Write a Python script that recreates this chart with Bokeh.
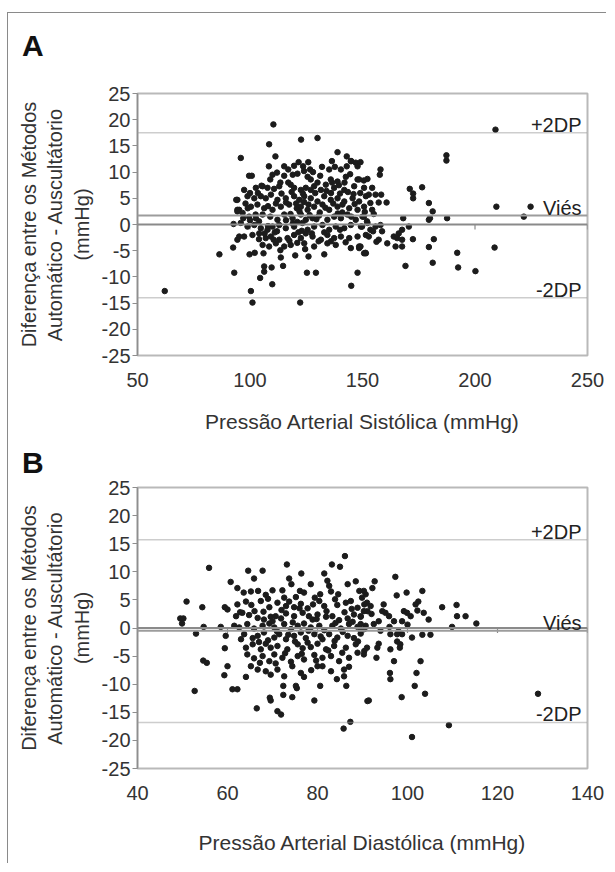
import math
from bokeh.plotting import figure
from bokeh.models import Span, Label, FixedTicker, Div
from bokeh.layouts import column
from bokeh.embed import file_html
from bokeh.resources import INLINE

FONT = "Liberation Sans"

# ---------------- Panel A: systolic ----------------
sys_x_ticks = [50, 100, 150, 200, 250]
y_ticks = [-25, -20, -15, -10, -5, 0, 5, 10, 15, 20, 25]
sys_bias, sys_upper, sys_lower = 1.7, 17.5, -14.0

sys_outer = [(62.1, -12.7), (86.4, -5.7), (93.0, -9.2), (92.5, -4.4), (92.7, 0.1), (95.9, 12.7),
             (93.9, 4.7), (94.4, 2.8), (95.2, -2.3), (94.4, -2.9), (100.4, -12.7), (101.1, -14.9),
             (99.8, -5.7), (102.1, -5.4), (104.5, -10.2), (106.3, -9.0), (106.3, -8.0), (106.0, -5.5),
             (109.9, -11.4), (109.6, -8.2), (108.5, 15.3), (110.4, 19.1), (111.3, 13.0), (108.4, 11.1),
             (99.6, 9.3), (100.8, 9.3), (113.7, -6.3), (114.7, -7.9), (120.1, -5.9), (122.3, -14.9),
             (122.7, 16.2), (130.0, 16.5), (125.3, -9.2), (129.3, -9.2), (124.5, -4.7), (126.0, -6.1),
             (133.0, -5.7), (138.9, 13.8), (143.0, 13.0), (145.0, 12.1), (147.0, 11.8), (147.8, -9.2),
             (145.0, -11.7), (147.8, 8.6), (150.7, -5.5), (148.5, -4.5)]
sys_upper_rows = [(115.2, 11.1), (119.6, 11.2), (121.6, 11.9), (123.6, 11.1), (125.9, 11.9), (126.7, 10.5),
                  (131.2, 9.3), (135.2, 10.5), (136.4, 12.1), (137.7, 11.0), (140.4, 10.5), (144.8, 12.1),
                  (147.8, 11.1), (143.0, 11.1), (105.1, 7.4), (109.0, 8.6), (115.2, 9.3), (119.0, 9.5),
                  (121.1, 9.7), (125.6, 9.1), (127.0, 8.6), (135.9, 8.6), (138.9, 8.2), (142.6, 9.1),
                  (148.5, 8.6), (152.2, 8.7), (97.4, 6.6), (102.6, 7.0), (105.6, 7.3), (107.8, 7.0),
                  (110.7, 6.8), (113.0, 7.3), (118.1, 7.6), (119.6, 7.0), (122.6, 6.6), (124.8, 7.0),
                  (128.5, 7.3), (131.5, 6.6), (133.7, 7.6), (137.4, 7.0), (141.9, 6.6), (146.3, 7.3),
                  (150.7, 7.0)]
sys_mid_rows = [(94.4, 4.7), (98.9, 5.4), (101.9, 5.0), (104.8, 5.4), (109.3, 5.7), (112.2, 4.7),
                (115.9, 5.0), (119.6, 5.4), (121.9, 4.7), (124.1, 5.4), (127.0, 5.0), (130.0, 4.4),
                (133.0, 5.4), (135.9, 4.7), (138.9, 5.0), (141.9, 4.4), (145.6, 5.0), (148.5, 4.4),
                (151.5, 5.4), (95.2, 2.8), (100.4, 3.4), (103.3, 3.8), (106.3, 3.1), (110.0, 2.8),
                (113.7, 3.4), (117.4, 3.8), (120.8, 3.1), (122.6, 3.4), (125.6, 2.8), (128.5, 3.4),
                (132.2, 3.8), (135.2, 2.8), (138.9, 3.4), (141.1, 3.8), (144.1, 3.1), (147.8, 2.8),
                (150.7, 3.4), (94.4, 2.5), (96.7, 2.2), (99.6, 1.5), (102.6, 1.2), (105.6, 1.9),
                (109.0, 1.5), (112.2, 0.9), (115.2, 1.9), (118.9, 1.2), (122.6, 1.9), (124.8, 0.9),
                (127.8, 1.2), (130.7, 1.7), (134.4, 0.9), (137.4, 1.5), (140.4, 1.2), (143.3, 1.9),
                (147.0, 0.9), (150.0, 1.5)]
sys_lower_rows = [(95.9, 0.3), (98.9, -0.4), (101.9, -0.1), (104.8, -0.7), (107.8, -1.0), (110.0, -0.4),
                  (113.0, -0.1), (115.9, -0.7), (119.6, -0.4), (123.3, 0.3), (125.6, -1.0), (128.5, -0.4),
                  (132.2, -0.1), (135.2, -1.0), (138.1, -0.4), (141.9, -0.7), (144.8, -0.1), (149.3, -0.4),
                  (152.2, 0.3), (97.4, -2.3), (101.1, -2.0), (104.1, -1.7), (107.0, -2.6), (109.3, -2.3),
                  (113.0, -2.9), (116.7, -2.6), (119.6, -2.0), (122.6, -2.6), (124.8, -1.7), (127.8, -2.3),
                  (131.5, -2.9), (134.4, -2.0), (137.4, -2.6), (140.4, -2.3), (144.1, -2.6), (147.8, -2.3),
                  (151.5, -2.0), (105.6, -3.9), (108.5, -4.2), (111.5, -3.6), (115.2, -4.2), (118.1, -3.9),
                  (124.1, -3.6), (128.5, -4.2), (134.4, -3.6), (138.1, -3.9), (144.8, -4.5), (148.5, -4.2),
                  (151.5, -5.5)]
sys_dense_extra = [(118.0, 2.0), (121.0, 0.5), (123.0, -1.2), (126.0, 3.8), (116.0, 4.2), (111.0, -1.5),
                   (104.0, 0.6), (129.0, 6.0), (133.0, -1.5), (140.0, -1.0), (112.0, 9.9), (117.0, 8.0),
                   (124.0, 10.2), (130.0, 8.0), (136.0, 6.0), (141.0, 2.3), (146.0, 5.8), (108.0, 3.5),
                   (100.0, 0.8), (97.0, 1.2)]
sys_blob = [(120.5, 4.0), (122.0, 2.5), (124.0, 4.3), (126.5, 1.8), (121.5, -1.5), (119.0, 0.2),
            (127.5, -1.7), (123.5, 5.9), (118.5, 6.2), (116.0, 0.8), (106.5, -1.7), (108.0, -0.3),
            (110.5, -2.9), (112.0, -1.3), (104.0, -2.8), (102.5, 1.9), (99.0, 3.1), (98.0, 4.0),
            (134.0, 6.4), (136.5, 8.0), (139.5, 7.5), (142.0, 8.0), (144.5, 9.6), (137.0, 4.0),
            (140.0, 5.9), (143.5, 6.2), (139.0, 2.1), (145.0, 1.5), (131.0, 2.3), (133.5, 3.2),
            (129.5, 1.0), (127.0, 6.6), (114.0, 5.9), (111.5, 4.0), (107.0, 5.0), (103.5, 6.0),
            (100.0, 6.0), (128.0, 10.0), (132.0, 11.0), (117.0, 10.5), (113.5, 8.0), (110.0, 9.5),
            (146.5, 3.9), (149.0, 6.0), (151.0, 2.4), (130.5, -3.2), (136.0, -3.2), (142.5, -3.4),
            (117.5, -3.1), (113.5, -4.9), (121.0, -3.5)]
sys_right = [(209.1, 18.1), (187.3, 13.2), (187.3, 12.2), (158.0, 10.5), (157.7, 9.5), (149.1, 11.9),
             (150.6, 8.4), (171.0, 6.8), (172.5, 5.9), (172.5, 5.0), (176.5, 7.1), (154.3, 7.0),
             (155.8, 5.7), (152.8, 5.7), (158.3, 5.7), (160.7, 4.2), (157.2, 4.2), (153.5, 4.1),
             (154.3, 2.8), (155.0, 2.0), (179.5, 4.1), (181.2, 2.5), (179.5, 0.9), (180.0, 1.2),
             (187.6, 1.2), (209.5, 3.4), (224.7, 3.4), (221.7, 1.5), (168.1, 1.2), (150.6, 1.5),
             (152.0, 0.6), (149.8, -0.4), (153.5, -1.0), (155.8, -0.4), (158.0, -0.1), (154.7, -1.3),
             (152.8, -2.3), (170.6, -0.4), (167.6, -1.0), (166.1, -1.7), (163.9, -2.3), (165.4, -2.6),
             (167.6, -2.9), (157.2, -2.9), (156.2, -3.3), (158.7, -1.3), (161.0, -3.6), (164.7, -4.2),
             (167.6, -4.2), (172.4, -2.8), (181.7, -2.8), (179.5, -4.3), (151.3, -5.4), (169.1, -7.9),
             (181.2, -7.3), (192.1, -5.4), (192.5, -8.2), (200.2, -8.9), (208.7, -4.4), (149.1, -4.2)]

# ---------------- Panel B: diastolic ----------------
dia_x_ticks = [40, 60, 80, 100, 120, 140]
dia_bias, dia_upper, dia_lower = -0.5, 15.7, -16.8

dia_outer = [(55.9, 10.7), (50.9, 4.7), (49.5, 1.7), (50.2, 1.7), (49.9, 0.8), (53.0, -1.0), (52.7, -11.2),
             (54.4, 3.7), (54.7, 0.2), (54.6, -5.8), (55.4, -6.2), (58.5, 0.2), (59.4, 3.7), (60.0, 3.3),
             (59.6, -1.4), (59.4, -3.6), (60.0, -6.8), (59.3, -8.4), (61.1, -10.9), (62.2, -10.9),
             (60.7, 8.2), (62.2, 7.1), (64.6, 10.2), (67.8, 10.2), (65.9, 8.8), (64.1, -8.7), (66.5, -14.3),
             (69.4, -12.4), (69.6, -12.9), (71.1, -14.8), (71.9, -15.4), (72.4, -11.9), (72.4, -10.3),
             (74.4, -12.3), (75.4, -10.7), (75.2, -10.3), (77.0, -8.7), (79.3, -12.9), (80.6, -10.3),
             (84.3, -9.1), (85.8, -17.9), (87.3, -16.7), (86.4, -10.3), (85.9, -8.6), (73.2, 11.3),
             (76.4, 9.7), (83.2, 11.3), (85.0, 10.9), (86.1, 12.8), (81.5, 9.7), (82.2, 8.4), (82.6, 7.5),
             (78.5, 7.8), (73.7, 8.8), (74.2, 7.8), (91.1, -13.0)]
dia_upper_rows = [(63.6, 6.3), (65.2, 6.5), (66.8, 6.6), (68.5, 5.9), (70.0, 6.7), (72.2, 6.7), (72.6, 5.4),
                  (76.1, 6.6), (77.0, 6.3), (79.4, 5.4), (80.6, 6.0), (83.0, 6.5), (84.6, 6.0), (86.7, 7.8),
                  (88.5, 8.3), (89.3, 6.6), (90.7, 6.0), (62.2, 4.2), (64.1, 4.7), (65.3, 4.1), (67.4, 4.8),
                  (69.3, 3.7), (71.1, 4.5), (73.7, 4.7), (74.8, 3.7), (76.3, 4.3), (77.8, 3.5), (80.4, 4.8),
                  (81.5, 3.9), (84.4, 4.1), (86.3, 4.5), (87.4, 4.8), (88.9, 3.6), (90.4, 4.2)]
dia_mid_rows = [(61.9, 2.1), (63.3, 2.7), (64.8, 2.3), (66.7, 1.8), (68.1, 1.5), (69.6, 2.0), (70.7, 2.1),
                (71.9, 1.7), (73.0, 2.6), (74.8, 2.1), (76.7, 2.7), (78.1, 2.1), (78.9, 1.5), (80.0, 2.4),
                (81.9, 2.0), (83.3, 2.1), (84.8, 1.4), (86.7, 1.7), (88.1, 2.4), (89.6, 2.0), (91.1, 3.0),
                (61.5, 0.4), (62.6, 0.1), (64.4, 0.7), (65.9, -0.1), (67.8, 0.4), (69.3, 0.8), (70.4, 0.1),
                (72.6, 0.7), (74.1, -0.2), (75.6, 0.4), (77.0, 0.8), (78.5, 0.1), (80.4, 0.4), (81.5, -0.4),
                (83.3, 0.4), (85.2, -0.1), (87.0, 0.7), (88.9, 0.2), (90.4, -0.2), (63.7, -1.1), (65.6, -1.8),
                (66.7, -1.4), (68.1, -0.8), (70.4, -1.7), (71.5, -1.1), (73.0, -2.0), (74.8, -1.4),
                (76.3, -0.8), (77.4, -1.8), (79.3, -1.1), (81.1, -2.0), (82.6, -1.1), (84.4, -1.7),
                (86.7, -1.4), (88.1, -1.8), (89.6, -1.0)]
dia_lower_rows = [(64.1, -3.5), (65.6, -2.9), (67.4, -3.8), (68.5, -2.8), (69.6, -3.5), (71.1, -3.2),
                  (73.3, -3.8), (75.6, -2.9), (76.7, -3.6), (78.5, -3.4), (80.0, -2.8), (81.9, -3.8),
                  (83.7, -3.2), (86.3, -3.5), (88.5, -2.9), (90.4, -4.1), (64.4, -4.7), (65.9, -5.4),
                  (67.8, -5.0), (69.3, -5.9), (70.4, -4.7), (72.2, -5.3), (74.1, -6.0), (75.6, -5.0),
                  (77.0, -5.6), (79.3, -4.8), (81.1, -5.3), (83.0, -5.0), (84.8, -5.9), (87.0, -5.3),
                  (88.9, -4.4), (65.2, -6.8), (66.7, -7.4), (68.5, -7.7), (69.6, -8.3), (71.1, -7.4),
                  (72.6, -8.6), (74.4, -6.8), (76.3, -8.0), (80.0, -6.8), (81.1, -6.8), (83.0, -7.7),
                  (85.9, -7.4), (87.0, -6.9)]
dia_blob = [(70.0, 1.2), (72.0, 3.2), (74.5, 1.0), (76.0, 3.5), (78.0, -0.5), (79.8, 1.6), (82.0, 3.0),
            (84.0, 0.9), (86.0, 2.8), (87.8, 1.1), (71.0, -0.6), (73.5, -1.2), (75.0, -2.4), (77.8, -2.6),
            (80.7, -1.5), (83.8, -2.3), (85.6, -0.7), (69.0, -2.2), (66.0, 3.0), (68.0, 2.9), (67.0, -2.5),
            (63.0, -2.0), (62.8, 2.8), (72.8, -4.5), (76.5, -4.6), (79.7, -5.8), (82.4, -4.0), (85.5, -4.4),
            (70.7, -6.3), (67.2, -6.2), (78.6, -7.5), (73.0, 3.9), (79.0, 4.2), (83.9, 5.1), (75.2, 5.5),
            (69.0, 5.2), (87.6, 3.4), (89.0, -2.4), (92.0, 2.5), (94.0, -0.5), (96.0, 0.2), (98.0, -0.6),
            (100.0, 0.6)]
dia_right = [(97.3, 9.1), (97.6, 5.8), (99.8, 6.3), (103.3, 6.6), (102.4, 4.7), (101.8, 4.2), (102.2, 3.1),
             (103.6, 2.7), (104.7, 1.5), (107.7, 3.7), (110.9, 4.1), (111.0, 2.1), (112.9, 2.1), (115.3, 0.8),
             (109.9, 0.2), (92.7, 8.3), (92.2, 7.1), (90.3, 6.6), (89.9, 5.4), (91.0, 4.5), (91.8, 3.9),
             (90.3, 3.0), (89.6, 2.1), (94.7, 4.2), (94.4, 3.0), (95.1, 2.7), (95.9, 2.1), (97.0, 1.2),
             (93.6, 1.2), (92.5, 0.7), (90.7, 0.4), (99.2, 3.0), (99.9, 2.7), (100.7, 2.1), (98.8, 1.2),
             (96.2, -1.1), (97.7, -1.1), (98.8, -1.1), (101.0, -1.7), (103.3, -1.2), (105.1, -1.2),
             (97.7, -2.4), (98.4, -2.9), (98.3, -3.5), (96.2, -3.8), (93.6, -2.8), (93.3, -3.5), (91.0, -3.5),
             (90.3, -4.7), (93.1, -5.3), (97.0, -5.9), (102.9, -5.9), (102.0, -8.0), (96.1, -8.0),
             (96.2, -9.1), (101.6, -10.3), (103.9, -11.7), (98.7, -12.3), (91.4, -12.9), (101.0, -19.4),
             (109.2, -17.3), (129.0, -11.7), (89.6, 0.7), (89.6, -0.5)]

Y_TITLE = "Diferença entre os Métodos\nAutomático - Auscultátorio\n(mmHg)"
TXT = "#333333"
FIG_W = 598


def panel(groups, x_range, x_ticks, x_title, bias, upper, lower,
          height, top, bottom, title_standoff):
    p = figure(width=FIG_W, height=height, x_range=x_range, y_range=(-25, 25),
               output_backend="svg", toolbar_location=None,
               min_border_left=129, min_border_right=19,
               min_border_top=top, min_border_bottom=bottom)
    p.xgrid.visible = False
    p.ygrid.visible = False
    p.background_fill_color = "white"
    p.border_fill_color = "white"
    p.outline_line_color = "#b9b9b9"
    p.outline_line_width = 2

    ya = p.yaxis[0]
    ya.ticker = FixedTicker(ticks=y_ticks)
    ya.major_label_overrides = {t: str(t) for t in y_ticks}
    ya.axis_line_color = "#8e8e8e"
    ya.axis_line_width = 1.5
    ya.major_tick_line_color = "#8e8e8e"
    ya.major_tick_out = 5
    ya.major_tick_in = 0
    ya.minor_tick_line_color = None
    ya.major_label_text_font = FONT
    ya.major_label_text_font_size = "20px"
    ya.major_label_text_color = TXT
    ya.major_label_standoff = 2
    ya.axis_label = Y_TITLE
    ya.axis_label_text_font = FONT
    ya.axis_label_text_font_size = "20px"
    ya.axis_label_text_font_style = "normal"
    ya.axis_label_text_color = TXT
    ya.axis_label_standoff = 6

    xa = p.xaxis[0]
    xa.ticker = FixedTicker(ticks=x_ticks)
    xa.axis_line_color = None
    xa.major_tick_line_color = None
    xa.minor_tick_line_color = None
    xa.major_label_text_font = FONT
    xa.major_label_text_font_size = "20px"
    xa.major_label_text_color = TXT
    xa.major_label_standoff = 11
    xa.axis_label = x_title
    xa.axis_label_text_font = FONT
    xa.axis_label_text_font_size = "21px"
    xa.axis_label_text_font_style = "normal"
    xa.axis_label_text_color = TXT
    xa.axis_label_standoff = title_standoff

    # reference lines
    for loc in (upper, lower):
        p.add_layout(Span(location=loc, dimension="width", line_color="#9a9a9a",
                          line_width=1.5, line_dash="1 1"))
    p.add_layout(Span(location=0, dimension="width", line_color="#8a8a8a", line_width=2))
    p.add_layout(Span(location=bias, dimension="width", line_color="#9c9c9c", line_width=2))
    # small ticks on the zero axis
    p.ray(x=x_ticks, y=[0] * len(x_ticks), length=5, length_units="screen",
          angle=-math.pi / 2, line_color="#8a8a8a", line_width=1.2)

    xs, ys = [], []
    for g in groups:
        for a, b in g:
            xs.append(a)
            ys.append(b)
    p.scatter(xs, ys, size=5.5, color="#1c1c1c", line_color="#1c1c1c")

    for txt, loc in (("+2DP", upper), ("Viés", bias), ("-2DP", lower)):
        p.add_layout(Label(x=444, x_units="screen", y=loc, y_offset=8, text=txt,
                           text_align="right", text_baseline="alphabetic",
                           text_font=FONT, text_font_size="20px", text_color="#222222"))
    return p


def letter_div(letter, height, pad_top):
    return Div(text=letter, width=FIG_W, height=height, margin=0,
               styles={"font-family": FONT, "font-size": "30px", "font-weight": "bold",
                       "line-height": "30px", "color": "#111111",
                       "padding-top": f"{pad_top}px", "padding-left": "14px",
                       "box-sizing": "border-box"})


divA = letter_div("A", 50, 18)
pA = panel([sys_outer, sys_upper_rows, sys_mid_rows, sys_lower_rows, sys_dense_extra, sys_blob, sys_right],
           (50, 250), sys_x_ticks, "Pressão Arterial Sistólica (mmHg)",
           sys_bias, sys_upper, sys_lower, height=375, top=30, bottom=83, title_standoff=20)
divB = letter_div("B", 36, 10)
pB = panel([dia_outer, dia_upper_rows, dia_mid_rows, dia_lower_rows, dia_blob, dia_right],
           (40, 140), dia_x_ticks, "Pressão Arterial Diastólica (mmHg)",
           dia_bias, dia_upper, dia_lower, height=389, top=13, bottom=95, title_standoff=28)

layout = column(divA, pA, divB, pB, spacing=0,
                styles={"border-top": "1px solid #8a8a8a", "border-left": "1px solid #8a8a8a",
                        "margin-top": "12px", "margin-left": "7px"})

open("out.html", "w").write(file_html(layout, INLINE))
